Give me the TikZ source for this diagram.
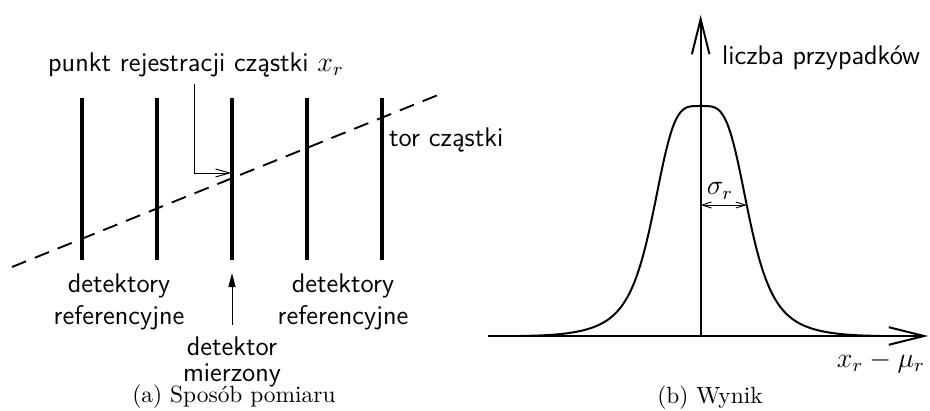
\documentclass[tikz,border=0pt]{standalone}
\usepackage{amsmath}
\usetikzlibrary{arrows.meta}

\begin{document}
\begin{tikzpicture}[
        x=1cm, y=1cm,
        lbl/.style      ={font=\sffamily\fontsize{11.5}{13.5}\selectfont, inner sep=2pt},
        capt/.style     ={font=\normalsize},
        det/.style      ={line width=1.7pt},
        track/.style    ={line width=0.8pt, dash pattern=on 6.5pt off 4pt},
        thinarr/.style  ={-{Straight Barb[length=6pt,width=3.4pt]}, line width=0.4pt},
        uparr/.style    ={-{Triangle[length=6pt,width=3pt]}, line width=0.4pt},
        axisline/.style ={-{Straight Barb[length=15pt,width=7.5pt]}, line width=0.85pt},
        gauss/.style    ={line width=0.85pt},
        sigarr/.style   ={{Straight Barb[length=4pt,width=2.6pt]}-{Straight Barb[length=4pt,width=2.6pt]}, line width=0.4pt}
    ]
    \useasboundingbox (0,0) rectangle (13.95,6.15);

    % (a) detectors and the particle track
    \foreach \i/\x in {1/1.23, 2/2.355, 3/3.48, 4/4.605, 5/5.73}
        \draw[det] (\x,2.25) coordinate (d\i) -- (\x,4.68);
    \draw[track] (0.18,2.145) -- (6.645,4.755);

    \node[lbl] (punkt) at (2.94,5.175) {punkt rejestracji cząstki $x_r$};
    \coordinate (reg) at (3.47,3.555);
    \draw[thinarr] ([xshift=-0.03cm,yshift=-0.03cm]punkt.south) |- (reg);

    \node[lbl, anchor=west] (tor) at (5.76,4.05) {tor cząstki};
    \node[lbl, align=center] (refL) at (1.785,1.62) {detektory\\referencyjne};
    \node[lbl, align=center] (refR) at (5.145,1.62) {detektory\\referencyjne};
    \node[lbl, align=center] (mierz) at (3.48,0.72) {detektor\\[-2.5pt]mierzony};
    \coordinate (mtip) at (3.48,2.055);
    \draw[uparr] ([yshift=0.1cm]mierz.north) -- (mtip);
    \node[capt] (capA) at (3.51,0.195) {(a) Sposób pomiaru};

    % (b) distribution of x_r - mu_r
    \coordinate (xa)   at (7.32,1.11);
    \coordinate (xb)   at (13.92,1.11);
    \coordinate (org)  at (10.51,1.11);
    \coordinate (ytop) at (10.51,5.925);
    \draw[axisline] (xa) -- (xb);
    \draw[axisline] (org) -- (ytop);
    \draw[gauss] plot[domain=-2.7:2.7, samples=181, smooth]
        ({10.51+\x}, {1.11+3.45*exp(-(\x*\x/5.29)^3)/(1+(\x*\x/0.549)^2)});

    \node[lbl, anchor=west] (ylab) at (10.755,5.28) {liczba przypadków};
    \node[lbl, anchor=east] (xlab) at (13.95,0.72) {$x_r - \mu_r$};
    \coordinate (s0) at (10.51,3.075);
    \coordinate (s1) at (11.2,3.075);
    \draw[sigarr] (s0) -- (s1);
    \node[lbl] (sgm) at (10.8,3.285) {$\sigma_r$};
    \node[capt] (capB) at (10.65,0.18) {(b) Wynik};
\end{tikzpicture}
\end{document}
